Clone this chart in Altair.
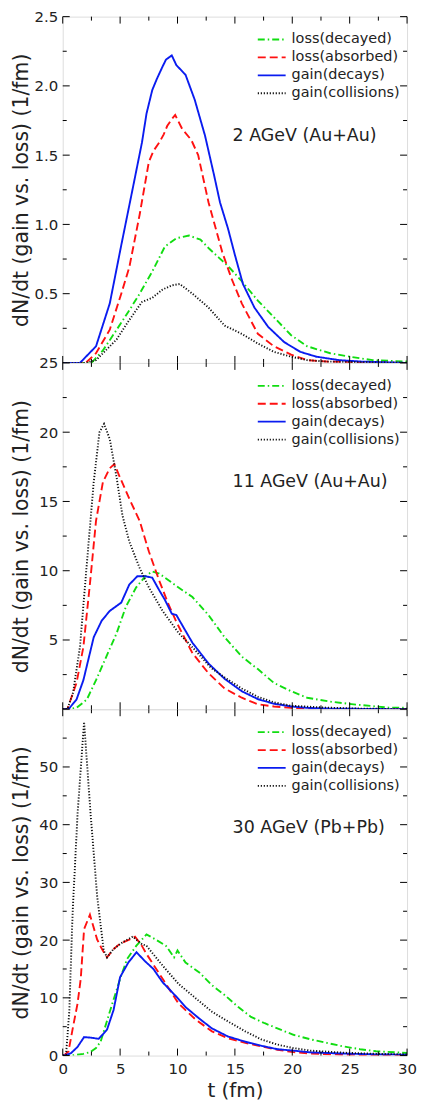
import altair as alt
import pandas as pd

FONT = "DejaVu Sans"
SERIES = ["loss(decayed)", "loss(absorbed)", "gain(decays)", "gain(collisions)"]
COLORS = ["#11dd11", "#ff1111", "#0a1cf0", "#111111"]
DASHES = [[7, 3, 1.5, 3], [8, 4], [1, 0], [1.2, 1.8]]
Y_TITLE = "dN/dt (gain vs. loss) (1/fm)"

# ---------------- Panel 1: 2 AGeV (Au+Au) ----------------
p1_dec_t = [0, 2.5, 3.5, 4.7, 5.8, 6.7, 7.8, 8.9, 9.9, 11.0, 12.0, 12.7, 13.6, 14.4, 15.6, 17.0, 18.4, 19.9, 21.3, 23.3, 25.0, 27.0, 30]
p1_dec_v = [0, 0, 0.09, 0.24, 0.38, 0.50, 0.66, 0.84, 0.90, 0.92, 0.89, 0.83, 0.76, 0.70, 0.59, 0.45, 0.33, 0.20, 0.12, 0.07, 0.045, 0.02, 0.01]
p1_abs_t = [0, 2.0, 2.9, 4.1, 5.1, 5.8, 6.7, 7.5, 7.9, 8.4, 8.8, 9.1, 9.5, 9.8, 10.4, 11.2, 11.8, 12.7, 13.9, 14.7, 15.6, 17.0, 18.4, 19.9, 21.3, 23.0, 30]
p1_abs_v = [0, 0, 0.07, 0.24, 0.50, 0.69, 1.07, 1.45, 1.53, 1.59, 1.65, 1.71, 1.76, 1.79, 1.69, 1.61, 1.50, 1.16, 0.80, 0.61, 0.43, 0.21, 0.12, 0.06, 0.02, 0.01, 0]
p1_gdec_t = [0, 1.5, 2.9, 4.1, 5.1, 6.1, 6.9, 7.3, 7.8, 8.2, 8.7, 9.0, 9.5, 9.9, 10.7, 11.5, 12.4, 13.2, 13.7, 14.4, 15.0, 15.7, 16.7, 17.9, 19.3, 20.7, 22.1, 24.1, 26.0, 30]
p1_gdec_v = [0, 0, 0.12, 0.43, 0.85, 1.26, 1.59, 1.80, 1.97, 2.05, 2.14, 2.19, 2.22, 2.15, 2.08, 1.90, 1.64, 1.35, 1.16, 0.97, 0.78, 0.57, 0.40, 0.26, 0.15, 0.08, 0.045, 0.02, 0.01, 0]
p1_gcol_t = [0, 2.0, 2.9, 4.7, 5.8, 6.9, 7.8, 8.7, 9.5, 10.2, 11.3, 12.7, 14.1, 15.6, 17.0, 18.4, 19.9, 21.3, 23.0, 30]
p1_gcol_v = [0, 0, 0.02, 0.17, 0.31, 0.44, 0.47, 0.53, 0.56, 0.57, 0.50, 0.40, 0.27, 0.21, 0.14, 0.08, 0.045, 0.02, 0.01, 0]

# ---------------- Panel 2: 11 AGeV (Au+Au) ----------------
p2_dec_t = [0, 0.5, 1.2, 2.1, 2.9, 3.8, 4.7, 5.5, 6.4, 7.2, 7.8, 8.4, 9.9, 11.3, 12.7, 14.1, 15.6, 17.0, 18.4, 19.9, 21.3, 23.3, 25.6, 28.4, 30]
p2_dec_v = [0, 0, 0.1, 0.7, 2.1, 3.8, 5.5, 7.4, 8.8, 9.6, 9.95, 9.8, 8.9, 8.1, 6.8, 5.2, 3.8, 2.9, 1.9, 1.3, 0.83, 0.55, 0.33, 0.12, 0.1]
p2_abs_t = [0, 0.4, 1.2, 1.8, 2.4, 2.9, 3.5, 4.1, 4.5, 4.9, 5.8, 6.7, 7.5, 8.4, 9.2, 9.9, 11.3, 12.7, 14.1, 15.6, 17.0, 18.4, 19.9, 21.3, 30]
p2_abs_v = [0, 0, 1.9, 4.5, 9.3, 13.6, 16.4, 17.4, 17.7, 16.9, 15.2, 13.6, 11.4, 9.3, 7.6, 6.3, 4.05, 2.6, 1.5, 0.83, 0.36, 0.2, 0.1, 0.02, 0]
p2_gdec_t = [0, 0.5, 1.2, 1.8, 2.7, 3.4, 4.1, 5.1, 5.8, 6.5, 7.2, 7.8, 8.4, 8.9, 9.5, 9.9, 11.3, 12.7, 14.1, 15.6, 17.0, 18.4, 19.9, 21.3, 23.0, 30]
p2_gdec_v = [0, 0, 0.7, 2.1, 5.2, 6.4, 7.1, 7.7, 9.0, 9.6, 9.6, 9.5, 8.6, 7.9, 6.9, 6.8, 4.8, 3.3, 2.2, 1.3, 0.73, 0.4, 0.2, 0.1, 0.05, 0]
p2_gcol_t = [0, 0.4, 0.9, 1.5, 2.1, 2.7, 3.2, 3.6, 4.1, 4.7, 5.2, 5.8, 6.7, 7.5, 8.7, 10.1, 11.5, 12.9, 14.1, 15.6, 17.0, 18.4, 19.9, 22.9, 25.8, 30]
p2_gcol_v = [0, 0, 1.2, 4.5, 10.5, 16.4, 20.0, 20.6, 19.5, 16.7, 14.0, 12.1, 10.2, 8.8, 7.1, 5.5, 4.3, 3.0, 2.3, 1.5, 0.9, 0.5, 0.25, 0.12, 0.05, 0]

# ---------------- Panel 3: 30 AGeV (Pb+Pb) ----------------
p3_dec_t = [0, 0.7, 1.8, 2.4, 2.9, 3.3, 4.1, 5.0, 5.6, 6.4, 6.9, 7.3, 8.1, 9.0, 9.7, 10.0, 10.7, 11.9, 13.0, 14.1, 15.3, 16.4, 17.6, 18.7, 20.1, 21.6, 23.0, 24.4, 25.9, 27.3, 30]
p3_dec_v = [0, 0, 0.3, 0.6, 1.3, 2.4, 7.6, 13.3, 16.7, 19.0, 20.1, 21.0, 20.1, 19.0, 17.0, 18.2, 16.1, 14.4, 12.2, 10.5, 8.4, 6.7, 5.6, 4.7, 3.6, 2.8, 2.2, 1.6, 1.1, 0.74, 0.45]
p3_abs_t = [0, 0.1, 0.5, 0.9, 1.29, 1.57, 1.86, 2.37, 3.0, 3.43, 3.86, 4.4, 5.0, 5.8, 6.3, 6.9, 7.3, 8.7, 10.1, 11.6, 13.0, 14.4, 15.9, 17.3, 18.7, 20.1, 21.6, 24.4, 27.0, 30]
p3_abs_v = [0, 0, 0.7, 5.0, 9.0, 13.3, 21.9, 24.4, 20.1, 18.4, 17.0, 18.4, 19.4, 20.1, 20.6, 19.0, 17.6, 13.3, 9.0, 6.2, 4.2, 3.0, 2.2, 1.6, 1.0, 0.6, 0.35, 0.15, 0.05, 0]
p3_gdec_t = [0, 0.1, 0.71, 1.29, 1.86, 2.43, 3.14, 3.86, 4.43, 5.0, 5.71, 6.43, 7.14, 7.9, 8.7, 9.9, 10.7, 11.9, 13.0, 14.4, 15.9, 17.3, 18.7, 20.1, 21.6, 24.4, 27.3, 30]
p3_gdec_v = [0, 0, 0.4, 1.5, 3.2, 3.1, 2.9, 4.5, 7.9, 13.6, 16.1, 17.9, 16.4, 15.0, 12.7, 10.2, 8.4, 6.4, 4.7, 3.3, 2.4, 1.7, 1.1, 0.85, 0.55, 0.35, 0.2, 0.15]
p3_gcol_t = [0, 0.1, 0.29, 0.57, 0.86, 1.29, 1.86, 2.43, 3.0, 3.57, 3.86, 4.4, 5.2, 6.1, 6.9, 7.3, 8.7, 10.1, 11.6, 13.0, 14.4, 15.9, 17.3, 18.7, 20.1, 21.6, 24.4, 27.3, 30]
p3_gcol_v = [0, 0, 0.2, 7.6, 24.7, 41.8, 57.8, 41.8, 27.6, 18.2, 17.0, 18.4, 19.6, 20.6, 19.3, 19.0, 15.6, 12.4, 9.9, 7.6, 5.9, 4.2, 2.8, 1.9, 1.3, 0.85, 0.5, 0.3, 0.2]

PANELS = [
    dict(label="2 AGeV (Au+Au)", ann_t=14.8, ann_v=1.64, ymax=2.5,
         labels=[0.5, 1.0, 1.5, 2.0, 2.5], fmt=".1f",
         major=[0, 0.5, 1.0, 1.5, 2.0, 2.5], minor=[0.25, 0.75, 1.25, 1.75, 2.25],
         series=[(p1_dec_t, p1_dec_v), (p1_abs_t, p1_abs_v), (p1_gdec_t, p1_gdec_v), (p1_gcol_t, p1_gcol_v)]),
    dict(label="11 AGeV (Au+Au)", ann_t=14.8, ann_v=16.4, ymax=25,
         labels=[5, 10, 15, 20, 25], fmt="d",
         major=[0, 5, 10, 15, 20, 25], minor=[2.5, 7.5, 12.5, 17.5, 22.5],
         series=[(p2_dec_t, p2_dec_v), (p2_abs_t, p2_abs_v), (p2_gdec_t, p2_gdec_v), (p2_gcol_t, p2_gcol_v)]),
    dict(label="30 AGeV (Pb+Pb)", ann_t=14.8, ann_v=39.4, ymax=60,
         labels=[0, 10, 20, 30, 40, 50], fmt="d",
         major=[0, 10, 20, 30, 40, 50, 60], minor=[5, 15, 25, 35, 45, 55],
         series=[(p3_dec_t, p3_dec_v), (p3_abs_t, p3_abs_v), (p3_gdec_t, p3_gdec_v), (p3_gcol_t, p3_gcol_v)]),
]

X_MAJOR = [0, 5, 10, 15, 20, 25, 30]
X_MINOR = [2.5, 7.5, 12.5, 17.5, 22.5, 27.5]
W = 346
H = 348


def make_panel(p, show_x):
    rows = []
    for name, (ts, vs) in zip(SERIES, p["series"]):
        for t, v in zip(ts, vs):
            rows.append({"t": t, "v": v, "series": name})
    df = pd.DataFrame(rows)
    xs = alt.Scale(domain=[0, 30], nice=False, zero=False)
    ys = alt.Scale(domain=[0, p["ymax"]], nice=False, zero=False)
    if show_x:
        xaxis = alt.Axis(values=X_MAJOR, ticks=False, domain=False, grid=False,
                         labelFontSize=15, labelPadding=6, labelFlush=False,
                         labelOverlap=False, title="t (fm)", titleFontSize=20,
                         titleFontWeight="normal", titlePadding=4,
                         labelFont=FONT, titleFont=FONT, labelColor="#222", titleColor="#222")
    else:
        xaxis = None
    yaxis = alt.Axis(values=p["labels"], format=p["fmt"], ticks=False, domain=False,
                     grid=False, labelFontSize=15, labelPadding=5, labelFlush=False,
                     labelOverlap=False, title=Y_TITLE, titleFontSize=20.5,
                     titleFontWeight="normal", titleX=-41, titleBaseline="middle",
                     labelFont=FONT, titleFont=FONT, labelColor="#222", titleColor="#222")
    leg = alt.Legend(title=None, orient="none", legendX=199, legendY=12, labelFontSize=14.5,
                     labelFont=FONT, labelColor="#222", symbolType="M-1.4,0L1.4,0",
                     symbolSize=400, symbolStrokeWidth=1.8, rowPadding=0,
                     labelOffset=9, padding=0)
    lines = alt.Chart(df).mark_line(strokeWidth=1.9, clip=True).encode(
        x=alt.X("t:Q", scale=xs, axis=xaxis),
        y=alt.Y("v:Q", scale=ys, axis=yaxis),
        color=alt.Color("series:N", scale=alt.Scale(domain=SERIES, range=COLORS), legend=leg, sort=SERIES),
        strokeDash=alt.StrokeDash("series:N", scale=alt.Scale(domain=SERIES, range=DASHES), legend=leg, sort=SERIES),
    )
    ann = alt.Chart(pd.DataFrame({"t": [p["ann_t"]], "v": [p["ann_v"]], "label": [p["label"]]})).mark_text(
        align="left", baseline="middle", fontSize=17.5, font=FONT, color="#222"
    ).encode(x=alt.X("t:Q", scale=xs), y=alt.Y("v:Q", scale=ys), text="label:N")

    layers = [lines, ann]
    ymaj = pd.DataFrame({"v": p["major"]})
    ymin = pd.DataFrame({"v": p["minor"]})
    for dfy, ln in ((ymaj, 7), (ymin, 4)):
        layers.append(alt.Chart(dfy).mark_rule(color="black", strokeWidth=1).encode(
            y=alt.Y("v:Q", scale=ys), x=alt.value(0), x2=alt.value(ln)))
        layers.append(alt.Chart(dfy).mark_rule(color="black", strokeWidth=1).encode(
            y=alt.Y("v:Q", scale=ys), x=alt.value(W), x2=alt.value(W - ln)))
    xmaj = pd.DataFrame({"t": X_MAJOR})
    xmin = pd.DataFrame({"t": X_MINOR})
    for dfx, ln in ((xmaj, 7), (xmin, 4)):
        layers.append(alt.Chart(dfx).mark_rule(color="black", strokeWidth=1).encode(
            x=alt.X("t:Q", scale=xs), y=alt.value(0), y2=alt.value(ln)))
        layers.append(alt.Chart(dfx).mark_rule(color="black", strokeWidth=1).encode(
            x=alt.X("t:Q", scale=xs), y=alt.value(H), y2=alt.value(H - ln)))
    return alt.layer(*layers).properties(width=W, height=H)


panels = [make_panel(p, i == 2) for i, p in enumerate(PANELS)]

chart = alt.vconcat(*panels, spacing=0, bounds="flush").resolve_scale(
    color="independent", strokeDash="independent", y="independent"
).resolve_legend(
    color="independent", strokeDash="independent"
).properties(
    padding={"left": 3, "top": -2, "right": 0, "bottom": -2}
).configure_view(
    stroke="black", strokeWidth=1.5
).configure(background="white")

chart.save("out.html", embed_options={"renderer": "svg", "actions": False})
